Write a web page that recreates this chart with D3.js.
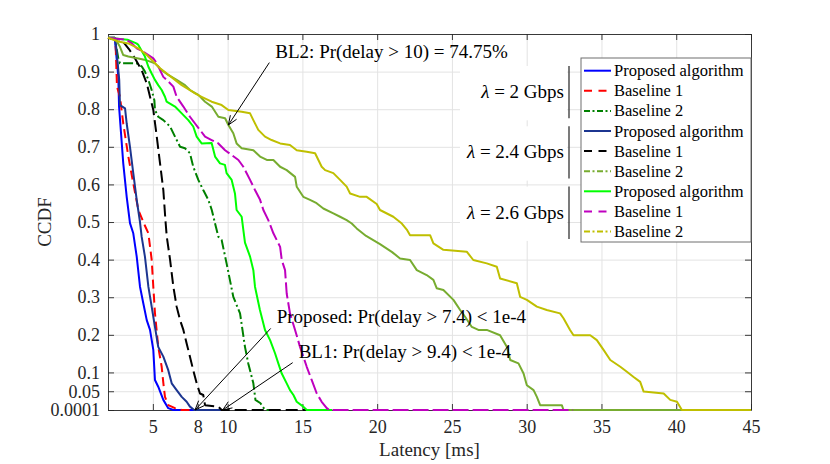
<!DOCTYPE html>
<html>
<head>
<meta charset="utf-8">
<script src="https://cdn.jsdelivr.net/npm/d3@7"></script>
<style>
  body { margin: 0; background: #fff; }
  text { font-family: "Liberation Serif", "Times New Roman", serif; }
</style>
</head>
<body>
<div id="chart-area"></div>
<script>
// CCDF of latency, three arrival rates x three schemes

const xTicks = [5, 8, 10, 15, 20, 25, 30, 35, 40, 45];
const yTicks = [0.0001, 0.05, 0.1, 0.2, 0.3, 0.4, 0.5, 0.6, 0.7, 0.8, 0.9, 1];
const yTickLabels = ["0.0001", "0.05", "0.1", "0.2", "0.3", "0.4", "0.5", "0.6", "0.7", "0.8", "0.9", "1"];

const seriesNames = ["Proposed algorithm", "Baseline 1", "Baseline 2",
  "Proposed algorithm", "Baseline 1", "Baseline 2",
  "Proposed algorithm", "Baseline 1", "Baseline 2"];
const rateLabels = ["2", "2.4", "2.6"];

// [latency ms, ccdf]
const prop20 = [[2,0.99],[2.45,0.99],[2.69,0.886],[2.74,0.807],[2.87,0.737],[3.02,0.656],[3.25,0.567],[3.47,0.497],[3.69,0.47],[3.92,0.408],[4.14,0.328],[4.36,0.284],[4.59,0.239],[4.81,0.213],[5.03,0.16],[5.14,0.08],[5.36,0.062],[5.7,0.027],[6.03,0.005],[6.37,0],[8,0]];
const bl1_20 = [[2,0.99],[2.5,0.985],[2.6,0.86],[2.8,0.833],[3.02,0.762],[3.36,0.674],[3.69,0.603],[4.03,0.532],[4.47,0.49],[4.7,0.47],[4.92,0.4],[5.03,0.328],[5.14,0.258],[5.36,0.168],[5.59,0.115],[5.7,0.072],[5.81,0.035],[6.03,0.013],[6.48,0.005],[6.93,0],[8.2,0]];
const bl2_20 = [[2,0.99],[2.45,0.99],[2.69,0.935],[2.8,0.922],[3.92,0.922],[4.25,0.914],[4.47,0.9],[4.7,0.878],[4.92,0.851],[5.1,0.824],[5.14,0.798],[5.36,0.78],[5.7,0.771],[6.15,0.754],[6.48,0.727],[6.82,0.7],[7.15,0.696],[7.48,0.683],[7.7,0.647],[8.04,0.612],[8.37,0.585],[8.71,0.559],[8.94,0.532],[9.16,0.496],[9.38,0.461],[9.6,0.452],[9.93,0.39],[10.38,0.301],[10.83,0.257],[11.16,0.168],[11.38,0.124],[11.72,0.071],[11.86,0.027],[12.2,0.018],[12.5,0],[13,0]];
const prop24 = [[2,0.99],[2.5,0.985],[2.75,0.878],[2.8,0.811],[3.14,0.802],[3.25,0.762],[3.47,0.7],[3.69,0.63],[3.92,0.559],[4.14,0.5],[4.25,0.461],[4.47,0.408],[4.7,0.328],[4.92,0.275],[5.14,0.221],[5.36,0.168],[5.7,0.142],[6.03,0.106],[6.26,0.071],[6.59,0.053],[6.93,0.035],[7.26,0.022],[7.48,0.009],[7.77,0],[10,0]];
const bl1_24 = [[2,0.99],[2.9,0.985],[3.4,0.96],[3.81,0.935],[4.25,0.904],[4.59,0.869],[4.81,0.833],[5.03,0.798],[5.26,0.727],[5.48,0.656],[5.7,0.585],[5.85,0.5],[5.93,0.461],[6.15,0.4],[6.37,0.328],[6.59,0.275],[6.82,0.239],[7.04,0.213],[7.26,0.177],[7.48,0.142],[7.7,0.106],[7.93,0.071],[8.15,0.044],[8.37,0.04],[8.49,0.013],[9.38,0.009],[9.6,0],[16,0]];
const bl2_24 = [[2,0.99],[2.45,0.99],[2.8,0.966],[3.02,0.944],[3.36,0.94],[4.03,0.935],[4.59,0.93],[5.14,0.922],[5.59,0.904],[6.03,0.891],[6.59,0.878],[7.15,0.864],[7.48,0.851],[8.04,0.838],[8.49,0.82],[8.94,0.807],[9.38,0.78],[9.83,0.776],[10.05,0.758],[10.38,0.736],[10.6,0.709],[10.94,0.696],[11.72,0.691],[12.17,0.674],[12.62,0.665],[13.06,0.665],[13.51,0.647],[13.95,0.638],[14.51,0.62],[14.62,0.594],[15.06,0.567],[15.51,0.559],[15.95,0.55],[16.4,0.536],[17.07,0.523],[17.52,0.514],[17.96,0.505],[18.3,0.496],[18.63,0.483],[19.26,0.463],[20.19,0.441],[21,0.42],[21.53,0.403],[22.2,0.399],[22.65,0.372],[23.31,0.359],[23.76,0.346],[23.98,0.324],[24.43,0.319],[25.1,0.293],[25.55,0.266],[25.88,0.248],[26.33,0.221],[26.77,0.213],[27.33,0.213],[28.22,0.199],[28.67,0.168],[28.9,0.133],[29.45,0.124],[29.79,0.097],[30.01,0.066],[30.46,0.053],[30.68,0.035],[30.9,0.013],[32.35,0.013],[32.46,0],[45,0]];
const prop26 = [[2,0.99],[3.3,0.985],[3.9,0.975],[4.03,0.971],[4.47,0.94],[4.7,0.913],[4.92,0.895],[5.14,0.878],[5.36,0.864],[5.59,0.851],[5.81,0.833],[5.92,0.82],[6.48,0.807],[6.93,0.789],[7.37,0.771],[7.7,0.754],[7.93,0.727],[8.26,0.709],[8.93,0.71],[9.16,0.674],[9.49,0.656],[9.82,0.652],[9.93,0.63],[10.27,0.612],[10.49,0.576],[10.6,0.532],[10.94,0.514],[11.05,0.479],[11.16,0.445],[11.5,0.408],[11.72,0.372],[11.83,0.328],[12.16,0.266],[12.5,0.213],[12.84,0.186],[13.17,0.151],[13.39,0.124],[13.62,0.097],[13.95,0.071],[14.17,0.053],[14.4,0.04],[14.62,0.022],[15.06,0.009],[15.29,0],[17,0]];
const bl1_26 = [[2,0.99],[3.2,0.985],[3.6,0.975],[3.92,0.962],[4.36,0.953],[4.7,0.944],[5.03,0.935],[5.26,0.922],[5.48,0.904],[5.7,0.886],[6.03,0.874],[6.37,0.86],[6.59,0.833],[7.04,0.807],[7.48,0.78],[7.82,0.762],[8.15,0.745],[8.49,0.727],[8.93,0.718],[9.38,0.709],[9.83,0.691],[10.27,0.678],[10.72,0.665],[11.05,0.647],[11.5,0.612],[11.83,0.585],[12.17,0.559],[12.39,0.532],[12.72,0.505],[13.06,0.47],[13.51,0.434],[13.62,0.399],[13.84,0.372],[13.95,0.31],[14.17,0.257],[14.51,0.213],[14.84,0.168],[15.29,0.115],[15.62,0.08],[15.96,0.044],[16.29,0.022],[16.63,0.005],[16.8,0],[33.1,0]];
const bl2_26 = [[2,0.99],[2.69,0.98],[3.36,0.975],[4.03,0.962],[4.59,0.944],[5.03,0.927],[5.48,0.909],[5.93,0.895],[6.48,0.878],[6.93,0.864],[7.48,0.851],[7.82,0.842],[8.26,0.833],[8.93,0.82],[9.6,0.811],[10.05,0.798],[10.94,0.793],[11.5,0.789],[11.72,0.771],[12.05,0.745],[12.5,0.727],[12.94,0.718],[13.51,0.709],[14.17,0.705],[14.62,0.691],[15.29,0.687],[15.85,0.683],[16.07,0.665],[16.29,0.647],[16.52,0.638],[17.07,0.63],[17.52,0.612],[17.96,0.594],[18.19,0.576],[18.86,0.567],[19.3,0.567],[19.97,0.548],[20.19,0.532],[21.08,0.514],[21.65,0.496],[21.98,0.48],[22.2,0.465],[23.54,0.465],[23.76,0.443],[24.43,0.426],[25.99,0.421],[26.43,0.399],[27.33,0.39],[28,0.381],[28.22,0.35],[29.34,0.337],[29.56,0.301],[30.01,0.293],[30.68,0.275],[31.34,0.266],[32.23,0.257],[32.46,0.244],[32.9,0.213],[33.13,0.199],[34.25,0.199],[34.69,0.186],[35.14,0.16],[35.59,0.133],[36.26,0.115],[36.7,0.102],[37.15,0.088],[37.59,0.075],[37.82,0.049],[39.16,0.044],[39.6,0.027],[40.05,0.022],[40.38,0],[45,0]];

const seriesData = [prop20, bl1_20, bl2_20, prop24, bl1_24, bl2_24, prop26, bl1_26, bl2_26];

// notes: [text, tail (data), tip (data)]
const notes = [
  ["BL2: Pr(delay > 10) = 74.75%", [12.79, 0.924], [10.05, 0.758]],
  ["Proposed: Pr(delay > 7.4) < 1e-4", [12.88, 0.217], [7.82, 0.0001]],
  ["BL1: Pr(delay > 9.4) < 1e-4", [14.35, 0.126], [9.67, 0.0001]]
];

// styles
const colors = ["#0000ff", "#ff0000", "#008000", "#1c3590", "#000000", "#77ac30", "#00ff00", "#bf00bf", "#bfbf00"];
const dashes = ["none", "9,5", "10,3,2,3", "none", "12,5", "none", "none", "16,4", "none"];
const legendDashes = ["none", "8,6.5", "6,2.5,2,2.5", "none", "8,6.5", "6,2.5,2,2.5", "none", "8,6.5", "6,2.5,2,2.5"];

let svgW = 830;
let svgH = 464;
let margin = { left: 108, right: 79, top: 34, bottom: 54 };
let chartW = svgW - margin.left - margin.right;
let chartH = svgH - margin.top - margin.bottom;
const axisColor = "#262626";

let svg = d3.select("#chart-area")
  .append("svg")
  .attr("width", svgW)
  .attr("height", svgH);

let group = svg.append("g")
  .attr("transform", `translate(${margin.left},${margin.top})`);

let x = d3.scaleLinear().domain([2, 45]).range([0, chartW]);
let y = d3.scaleLinear().domain([0.0001, 1]).range([chartH, 0]);

// grid
group.append("g")
  .attr("transform", `translate(0,${chartH})`)
  .call(d3.axisBottom(x).tickValues(xTicks).tickSize(-chartH).tickFormat(""))
  .call(g => g.select(".domain").remove())
  .selectAll("line").attr("stroke", "#e3e3e3");
group.append("g")
  .call(d3.axisLeft(y).tickValues(yTicks).tickSize(-chartW).tickFormat(""))
  .call(g => g.select(".domain").remove())
  .selectAll("line").attr("stroke", "#e3e3e3");

const styleAxis = g => {
  g.select(".domain").attr("stroke", axisColor).attr("stroke-width", 0.9);
  g.selectAll("line").attr("stroke", axisColor).attr("stroke-width", 0.9);
  g.selectAll("text").attr("fill", axisColor)
    .style("font-family", "'Liberation Serif', serif").style("font-size", "18px");
};

group.append("g")
  .attr("transform", `translate(0,${chartH})`)
  .call(d3.axisBottom(x).tickValues(xTicks).tickSize(-6).tickSizeOuter(0).tickPadding(10))
  .call(styleAxis);
group.append("g")
  .call(d3.axisTop(x).tickValues(xTicks).tickSize(-6).tickSizeOuter(0).tickFormat(""))
  .call(styleAxis);
group.append("g")
  .call(d3.axisLeft(y).tickValues(yTicks).tickSize(-6).tickSizeOuter(0).tickPadding(8)
    .tickFormat((d, i) => yTickLabels[i]))
  .call(styleAxis);
group.append("g")
  .attr("transform", `translate(${chartW},0)`)
  .call(d3.axisRight(y).tickValues(yTicks).tickSize(-6).tickSizeOuter(0).tickFormat(""))
  .call(styleAxis);

// axis labels
svg.append("text")
  .attr("x", margin.left + chartW / 2)
  .attr("y", 456)
  .attr("text-anchor", "middle")
  .attr("fill", axisColor)
  .style("font-size", "19px")
  .text("Latency [ms]");
svg.append("text")
  .attr("transform", `translate(51,${margin.top + chartH / 2}) rotate(-90)`)
  .attr("text-anchor", "middle")
  .attr("fill", axisColor)
  .style("font-size", "19px")
  .text("CCDF");

// curves
let line = d3.line()
  .x(d => x(d[0]))
  .y(d => y(Math.max(d[1], 0.0001)));

group.selectAll(".curve")
  .data(seriesData)
  .enter()
  .append("path")
  .attr("class", "curve")
  .attr("d", line)
  .attr("fill", "none")
  .attr("stroke", (d, i) => colors[i])
  .attr("stroke-width", 2)
  .attr("stroke-dasharray", (d, i) => dashes[i])
  .attr("stroke-linejoin", "round");

// annotations
const drawArrow = (tail, tip) => {
  let x1 = x(tail[0]), y1 = y(tail[1]), x2 = x(tip[0]), y2 = y(tip[1]);
  let a = Math.atan2(y2 - y1, x2 - x1);
  group.append("line")
    .attr("x1", x1).attr("y1", y1).attr("x2", x2).attr("y2", y2)
    .attr("stroke", "#000").attr("stroke-width", 1);
  [-0.38, 0.38].forEach(o => {
    group.append("line")
      .attr("x1", x2).attr("y1", y2)
      .attr("x2", x2 - 10 * Math.cos(a + o))
      .attr("y2", y2 - 10 * Math.sin(a + o))
      .attr("stroke", "#000").attr("stroke-width", 1);
  });
};

notes.forEach(n => {
  drawArrow(n[1], n[2]);
  group.append("text")
    .attr("x", x(n[1][0]) + 6)
    .attr("y", y(n[1][1]) - 5)
    .attr("fill", "#000")
    .style("font-size", "19px")
    .text(n[0]);
});

// legend
let legX = 581, legY = 58, rowH = 20.1, legW = 170, legH = 184;
let legend = svg.append("g");

// rate labels with white boxes and brackets
rateLabels.forEach((r, gI) => {
  let top = legY + 10 + rowH * 3 * gI;
  let bot = top + rowH * 3 - 12;
  let top2 = top - 2;
  legend.append("rect")
    .attr("x", 460).attr("y", top2)
    .attr("width", 107).attr("height", bot - top2 + 4)
    .attr("fill", "#fff");
  legend.append("line")
    .attr("x1", 569).attr("x2", 569)
    .attr("y1", top2).attr("y2", bot + 2)
    .attr("stroke", "#333").attr("stroke-width", 1.3);
  let t = legend.append("text")
    .attr("x", 564)
    .attr("y", (top2 + bot) / 2 + 7)
    .attr("text-anchor", "end")
    .attr("fill", "#000")
    .style("font-size", "19px");
  t.append("tspan").style("font-style", "italic").text("\u03bb");
  t.append("tspan").text(` = ${r} Gbps`);
});

legend.append("rect")
  .attr("x", legX).attr("y", legY)
  .attr("width", legW).attr("height", legH)
  .attr("fill", "#fff")
  .attr("stroke", "#6e6e6e")
  .attr("stroke-width", 1);

seriesNames.forEach((name, i) => {
  let cy = legY + 12.7 + i * rowH;
  legend.append("line")
    .attr("x1", legX + 3).attr("x2", legX + 30)
    .attr("y1", cy).attr("y2", cy)
    .attr("stroke", colors[i])
    .attr("stroke-width", 2)
    .attr("stroke-dasharray", legendDashes[i]);
  legend.append("text")
    .attr("x", legX + 33)
    .attr("y", cy + 5.5)
    .attr("fill", "#000")
    .style("font-size", "16.5px")
    .text(name);
});
</script>
</body>
</html>
